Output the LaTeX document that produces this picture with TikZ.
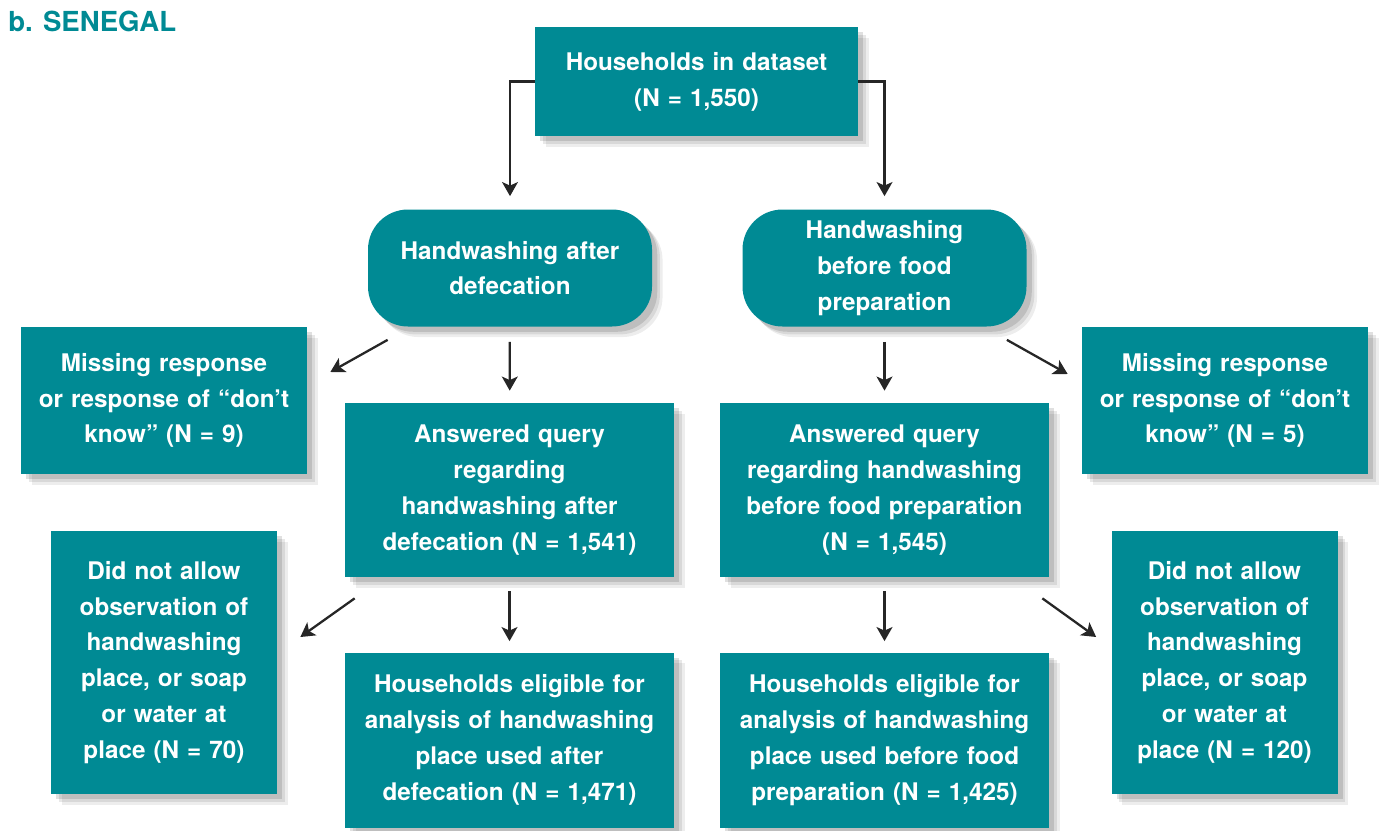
\documentclass[tikz,border=0pt]{standalone}
\usepackage{fontspec}
\setmainfont{TeX Gyre Heros}
\usepackage{tikz}
\usetikzlibrary{arrows.meta,shadows,positioning}

\definecolor{tealbox}{RGB}{0,138,148}

\begin{document}
\begin{tikzpicture}[
	box/.style={fill=tealbox, text=white, font=\bfseries\fontsize{13.8}{20.4}\selectfont,
		align=center, inner sep=0pt,
		drop shadow={shadow xshift=6pt, shadow yshift=-6pt, fill=black, opacity=0.07},
		drop shadow={shadow xshift=4.5pt, shadow yshift=-4.5pt, fill=black, opacity=0.09},
		drop shadow={shadow xshift=3pt, shadow yshift=-3pt, fill=black, opacity=0.12}},
	roundbox/.style={box, rounded corners=0.8cm},
	arr/.style={->, line width=1.3pt, draw=black!85},
	>={Stealth[length=8pt,width=9pt,inset=2pt]}]
	\useasboundingbox (0,0) rectangle (27.78,-16.6);
	\node (title) [anchor=base west, text=tealbox, font=\bfseries\fontsize{15.7}{18}\selectfont, inner sep=0pt] at (0.16,-0.64) {b. SENEGAL};
	\path (13.93,-1.63) node (data) [box, text width=6.46cm, minimum height=2.18cm] {Households in dataset\\(N = 1,550)}
		  (10.2,-5.36) node (after) [roundbox, text width=5.68cm, minimum height=2.34cm] {Handwashing after\\defecation}
		  (17.69,-5.36) node (before) [roundbox, text width=5.68cm, minimum height=2.34cm] {Handwashing\\before food\\preparation}
		  (3.28,-8.01) node (missA) [box, text width=5.72cm, minimum height=2.94cm] {Missing response\\or response of “don’t\\know” (N = 9)}
		  (24.5,-8.01) node (missB) [box, text width=5.72cm, minimum height=2.94cm] {Missing response\\or response of “don’t\\know” (N = 5)}
		  (10.19,-9.8) node (ansA) [box, text width=6.58cm, minimum height=3.48cm] {Answered query\\regarding\\handwashing after\\defecation (N = 1,541)}
		  (17.69,-9.8) node (ansB) [box, text width=6.58cm, minimum height=3.48cm] {Answered query\\regarding handwashing\\before food preparation\\(N = 1,545)}
		  (3.28,-13.25) node (noobsA) [box, text width=4.52cm, minimum height=5.26cm] {Did not allow\\observation of\\handwashing\\place, or soap\\or water at\\place (N = 70)}
		  (24.49,-13.25) node (noobsB) [box, text width=4.52cm, minimum height=5.26cm] {Did not allow\\observation of\\handwashing\\place, or soap\\or water at\\place (N = 120)}
		  (10.19,-14.8) node (eligA) [box, text width=6.58cm, minimum height=3.5cm] {Households eligible for\\analysis of handwashing\\place used after\\defecation (N = 1,471)}
		  (17.69,-14.8) node (eligB) [box, text width=6.58cm, minimum height=3.5cm] {Households eligible for\\analysis of handwashing\\place used before food\\preparation (N = 1,425)};
	\draw[arr, shorten >=0.26cm] (data.west) -| (after.north);
	\draw[arr, shorten >=0.26cm] (data.east) -| (before.north);
	\draw[arr, shorten <=0.3cm, shorten >=0.24cm] (after) -- (ansA);
	\draw[arr, shorten <=0.3cm, shorten >=0.24cm] (before) -- (ansB);
	\draw[arr, shorten <=0.28cm, shorten >=0.22cm] (ansA) -- (eligA);
	\draw[arr, shorten <=0.28cm, shorten >=0.22cm] (ansB) -- (eligB);
	\draw[arr] ([shift={(0.4,-0.26)}]after.south west) -- ([shift={(0.46,0.57)}]missA.east);
	\draw[arr] ([shift={(-0.4,-0.26)}]before.south east) -- ([shift={(-0.28,0.53)}]missB.west);
	\draw[arr] ([shift={(0.2,-0.42)}]ansA.south west) -- ([shift={(0.46,0.51)}]noobsA.east);
	\draw[arr] ([shift={(-0.14,-0.42)}]ansB.south east) -- ([shift={(-0.3,0.51)}]noobsB.west);
\end{tikzpicture}
\end{document}
